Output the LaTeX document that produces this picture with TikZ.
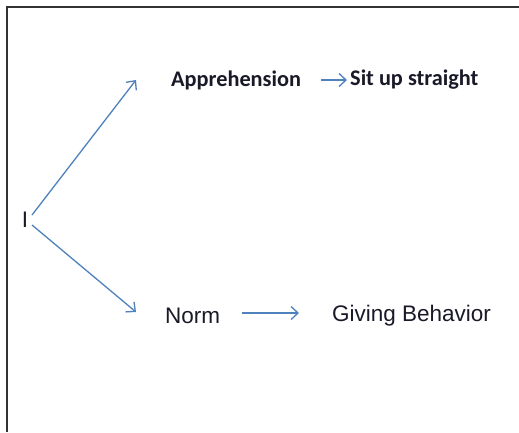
\documentclass[tikz,border=0pt]{standalone}
\usepackage{fontspec}
\setmainfont{Liberation Sans}
\newfontfamily\calib{Carlito}
\usetikzlibrary{arrows.meta}
\definecolor{arrowblue}{RGB}{79,129,189}
\definecolor{txt}{RGB}{25,25,40}
\tikzset{
  conn/.style={draw=arrowblue, line width=1.3bp, -{Straight Barb[length=7bp,width=13bp,line width=1.3bp]}},
  lbl/.style={inner sep=0pt, anchor=west, text=txt, font=\fontsize{22.5bp}{26bp}\selectfont},
  clbl/.style={inner sep=0pt, anchor=west, text=txt, font=\calib\bfseries\fontsize{22.3bp}{26bp}\selectfont},
  frame/.style={draw=black!80, line width=2.2bp}
}
\begin{document}
\begin{tikzpicture}[x=1bp,y=-1bp]
\useasboundingbox (0,0) rectangle (519,432);
\fill[white] (0,0) rectangle (519,432);
\draw[frame] (7,432) -- (7,7) -- (519,7);
\node[lbl, anchor=center] (I) at (25,220) {I};
\node[clbl] (A) at (171,80) {Apprehension};
\node[clbl] (S) at (350,80) {Sit up straight};
\node[lbl] (N) at (165,316) {Norm};
\node[lbl] (G) at (332,316) {Giving Behavior};
\coordinate (iu) at (32,215);
\coordinate (id) at (32,225);
\coordinate (au) at (136,80);
\coordinate (nd) at (136,312);
\coordinate (as) at (321,80);
\coordinate (ae) at (347,80);
\coordinate (ns) at (242,313);
\coordinate (ne) at (299,313);
\draw[conn] (iu) -- (au);
\draw[conn] (id) -- (nd);
\draw[conn] (as) -- (ae);
\draw[conn] (ns) -- (ne);
\end{tikzpicture}
\end{document}
